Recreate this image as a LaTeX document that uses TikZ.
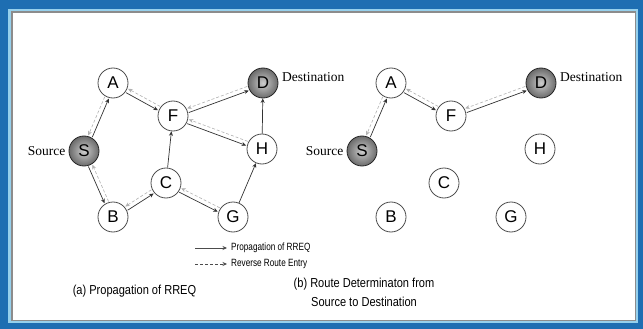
\documentclass[tikz,border=0pt]{standalone}
\usepackage{fontspec}
\setmainfont{Liberation Serif}
\newfontfamily\arialf{Liberation Sans}
\newfontfamily\arialn[FakeStretch=0.85]{Liberation Sans}
\newfontfamily\arialnn[FakeStretch=0.78]{Liberation Sans}
\usetikzlibrary{calc,arrows.meta}
\definecolor{frameblue}{RGB}{30,110,178}
\definecolor{framelight}{RGB}{150,208,236}
\newcommand\biedge[2]{%
  \draw[fwd] ($(#1)!16pt!(#2)!2.2pt!-90:(#2)$) -- ($(#2)!16pt!(#1)!2.2pt!90:(#1)$);
  \draw[rev] ($(#2)!16pt!(#1)!2.2pt!-90:(#1)$) -- ($(#1)!16pt!(#2)!2.2pt!90:(#2)$);}
\begin{document}
\begin{tikzpicture}[x=1pt,y=-1pt,
  ndbase/.style={circle, draw=black!70, line width=0.8pt, minimum size=30pt, inner sep=0pt,
    font=\arialf\fontsize{17}{17}\selectfont},
  nd/.style={ndbase, fill=white},
  dst/.style={ndbase, draw=black!85, inner color=black!20, outer color=black!58},
  fwd/.style={draw=black!80, line width=0.7pt, -{Stealth[length=4.5pt,width=4pt]}},
  rev/.style={draw=gray!60, line width=0.6pt, densely dashed, -{Stealth[length=4.5pt,width=4pt]}},
  lbl/.style={font=\fontsize{13.5}{14}\selectfont, inner sep=0pt},
  leg/.style={font=\arialnn\fontsize{10.5}{10.5}\selectfont, inner sep=0pt, anchor=west},
  captxt/.style={font=\arialn\fontsize{13}{19}\selectfont, align=center, inner sep=0pt}]
\useasboundingbox (0,0) rectangle (643,329);
% frame
\fill[frameblue] (0,0) rectangle (643,329);
\fill[framelight] (8,9) rectangle (638,323);
\fill[black!45] (10.5,11.5) rectangle (636,321);
\fill[white] (12.5,13.5) rectangle (635,320);
% ---------- panel (a)
\node[nd]  (A) at (113,83)  {A};
\node[nd]  (F) at (173,116) {F};
\node[dst] (D) at (263,83)  {D};
\node[dst] (S) at (84,151)  {S};
\node[nd]  (H) at (262,149) {H};
\node[nd]  (C) at (166,183) {C};
\node[nd]  (B) at (113,217) {B};
\node[nd]  (G) at (233,217) {G};
\node[lbl, anchor=east] (srcA) at ($(S.west)+(-3,0)$) {Source};
\node[lbl, anchor=west] (dstA) at (282,77) {Destination};
\biedge{S}{A}
\biedge{A}{F}
\biedge{F}{D}
\biedge{F}{H}
\biedge{S}{B}
\biedge{B}{C}
\biedge{C}{G}
\draw[fwd] (C) -- (F);
\draw[fwd] (G) -- (H);
\draw[fwd] (H) -- (D);
% ---------- panel (b)
\node[nd]  (A2) at (391,83)  {A};
\node[nd]  (F2) at (451,116) {F};
\node[dst] (D2) at (541,83)  {D};
\node[dst] (S2) at (362,151) {S};
\node[nd]  (H2) at (540,149) {H};
\node[nd]  (C2) at (444,183) {C};
\node[nd]  (B2) at (391,217) {B};
\node[nd]  (G2) at (511,217) {G};
\node[lbl, anchor=east] (srcB) at ($(S2.west)+(-3,0)$) {Source};
\node[lbl, anchor=west] (dstB) at (560,77) {Destination};
\biedge{S2}{A2}
\biedge{A2}{F2}
\biedge{F2}{D2}
% ---------- legend
\coordinate (l1s) at (195,248);
\coordinate (l1e) at (227,248);
\coordinate (l2s) at (195,264);
\coordinate (l2e) at (227,264);
\draw[fwd, draw=black!70] (l1s) -- (l1e);
\draw[rev, draw=black!70] (l2s) -- (l2e);
\node[leg] (t1) at (231,248) {Propagation of RREQ};
\node[leg] (t2) at (231,264) {Reverse Route Entry};
% ---------- captions
\node[captxt] (capa) at (134.5,291) {(a) Propagation of RREQ};
\node[captxt] (capb) at (364,292.5) {(b) Route Determinaton from\\Source to Destination};
\end{tikzpicture}
\end{document}
